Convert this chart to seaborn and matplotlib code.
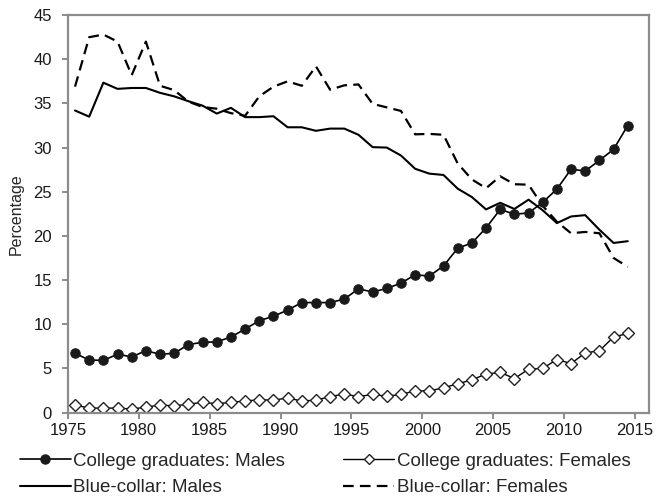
import numpy as np
import pandas as pd
import matplotlib
matplotlib.use("Agg")
import matplotlib.pyplot as plt
from matplotlib.lines import Line2D
import seaborn as sns

# Annual shares (percent), 1975-2014
years = list(range(1975, 2015))

college_males = [6.7, 5.95, 5.9, 6.6, 6.3, 7.0, 6.6, 6.7, 7.7, 7.95,
                 8.0, 8.55, 9.45, 10.4, 10.9, 11.6, 12.45, 12.45, 12.45, 12.85,
                 14.0, 13.65, 14.05, 14.65, 15.6, 15.45, 16.6, 18.6, 19.2, 20.9,
                 23.0, 22.45, 22.6, 23.8, 25.3, 27.55, 27.35, 28.55, 29.8, 32.5]

college_females = [0.85, 0.5, 0.5, 0.5, 0.4, 0.6, 0.85, 0.75, 0.95, 1.15,
                   1.0, 1.15, 1.3, 1.45, 1.4, 1.65, 1.3, 1.4, 1.8, 2.1,
                   1.8, 2.05, 1.85, 2.05, 2.45, 2.45, 2.8, 3.25, 3.7, 4.35,
                   4.55, 3.85, 4.9, 5.0, 6.0, 5.55, 6.75, 7.0, 8.55, 8.95]

bluecollar_males = [34.2, 33.5, 37.35, 36.65, 36.75, 36.75, 36.2, 35.8, 35.25, 34.75,
                    33.85, 34.5, 33.45, 33.45, 33.55, 32.3, 32.3, 31.9, 32.15, 32.15,
                    31.45, 30.05, 30.0, 29.1, 27.6, 27.05, 26.9, 25.35, 24.4, 23.0,
                    23.75, 23.05, 24.1, 22.9, 21.45, 22.2, 22.35, 20.7, 19.2, 19.4]

bluecollar_females = [36.9, 42.5, 42.8, 42.0, 38.2, 42.0, 37.0, 36.5, 35.2, 34.6,
                      34.4, 33.9, 33.6, 35.8, 36.9, 37.5, 37.0, 39.2, 36.55, 37.05,
                      37.15, 34.95, 34.55, 34.15, 31.5, 31.55, 31.45, 28.2, 26.4, 25.4,
                      26.75, 25.85, 25.8, 23.4, 21.6, 20.3, 20.45, 20.3, 17.5, 16.5]

labels = ["College graduates: Males", "College graduates: Females",
          "Blue-collar: Males", "Blue-collar: Females"]

sns.set_style("white")
plt.rcParams["font.family"] = ["Liberation Sans", "DejaVu Sans"]

# each yearly value is plotted at mid-year
x_pos = np.array(years) + 0.5
df = pd.DataFrame({
    "x": x_pos,
    labels[0]: college_males,
    labels[1]: college_females,
    labels[2]: bluecollar_males,
    labels[3]: bluecollar_females,
})

fig = plt.figure(figsize=(6.66, 5.04), dpi=100)
ax = fig.add_axes([0.102, 0.1815, 0.8725, 0.7885])

lw = 1.5
dash = (0, (4.8, 2.8))
sns.lineplot(data=df, x="x", y=labels[2], ax=ax, color="black", lw=lw)
sns.lineplot(data=df, x="x", y=labels[3], ax=ax, color="black", lw=1.6,
             linestyle=dash)
sns.lineplot(data=df, x="x", y=labels[1], ax=ax, color="black", lw=1.0,
             marker="D", markersize=6.0, markerfacecolor="white",
             markeredgecolor="#222222", markeredgewidth=1.0)
sns.lineplot(data=df, x="x", y=labels[0], ax=ax, color="black", lw=1.2,
             marker="o", markersize=6.8, markerfacecolor="#1a1a1a",
             markeredgecolor="#1a1a1a")

ax.set_xlim(1975, 2016)
ax.set_ylim(0, 45)
ax.set_xticks(range(1975, 2016, 5))
ax.set_yticks(range(0, 46, 5))
ax.set_xlabel("")
ax.set_ylabel("Percentage", fontsize=11.5, labelpad=7)

for s in ax.spines.values():
    s.set_visible(True)
    s.set_color("#8c8c8c")
    s.set_linewidth(1.6)
ax.tick_params(axis="both", which="major", direction="out", length=4.5,
               width=1.4, color="#8c8c8c", labelsize=12, labelcolor="#1a1a1a",
               bottom=True, left=True)
ax.tick_params(axis="y", pad=7)
ax.tick_params(axis="x", pad=3)
if ax.get_legend() is not None:
    ax.get_legend().remove()

handles = [
    Line2D([], [], color="black", lw=1.2, marker="o", markersize=6.5,
           markerfacecolor="#1a1a1a", markeredgecolor="#1a1a1a"),
    Line2D([], [], color="black", lw=lw),
    Line2D([], [], color="black", lw=1.0, marker="D", markersize=5.5,
           markerfacecolor="white", markeredgecolor="#222222"),
    Line2D([], [], color="black", lw=1.6, linestyle=dash),
]
leg_labels = [labels[0], labels[2], labels[1], labels[3]]
fig.legend(handles, leg_labels, ncol=2, loc="upper left",
           bbox_to_anchor=(0.03, 0.102), frameon=False, fontsize=13.5,
           handlelength=2.7, handletextpad=0.15, columnspacing=3.1,
           labelspacing=0.5, numpoints=1, borderaxespad=0, borderpad=0)

fig.savefig("out.png", dpi=100, facecolor="white")
